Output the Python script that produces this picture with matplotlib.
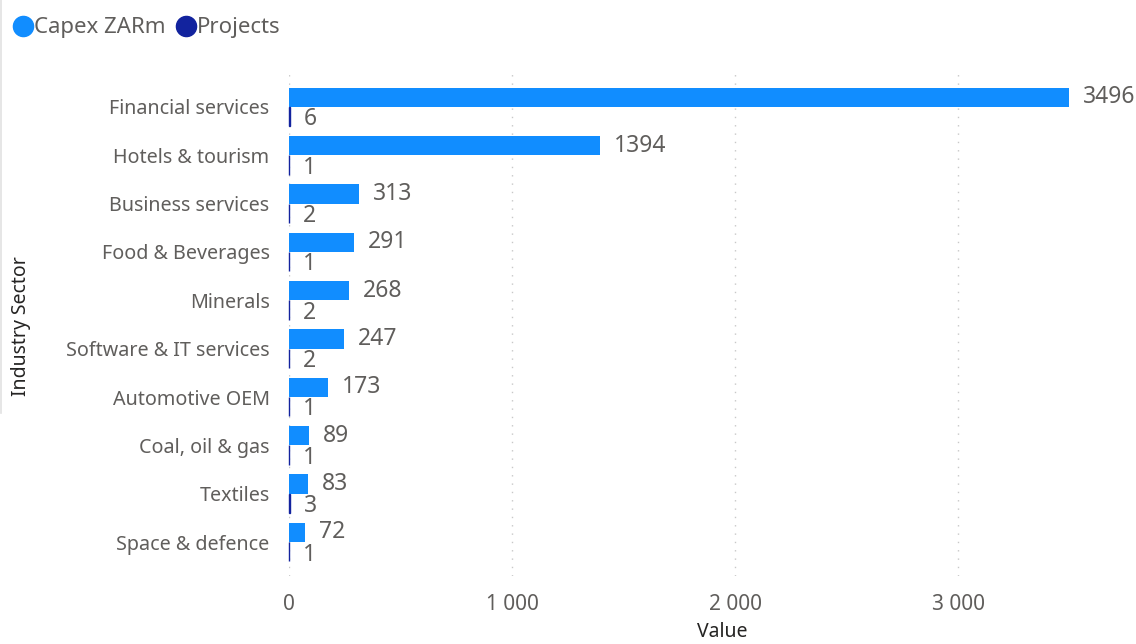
import matplotlib.pyplot as plt
import numpy as np
from matplotlib.lines import Line2D
from matplotlib.ticker import FuncFormatter

sectors = ['Financial services', 'Hotels & tourism', 'Business services',
           'Food & Beverages', 'Minerals', 'Software & IT services',
           'Automotive OEM', 'Coal, oil & gas', 'Textiles', 'Space & defence']
capex = [3496, 1394, 313, 291, 268, 247, 173, 89, 83, 72]
projects = [6, 1, 2, 1, 2, 2, 1, 1, 3, 1]

CAPEX_C = '#118DFF'
PROJ_C = '#12239E'
TXT = '#605E5C'

plt.rcParams['font.family'] = ['Noto Sans', 'DejaVu Sans']


def main():
    fig = plt.figure(figsize=(11.36, 6.44), dpi=100)
    ax = fig.add_axes([289 / 1136, 1 - 576 / 644, (1130 - 289) / 1136, (576 - 73) / 644])

    y = np.arange(len(sectors))
    h = 0.4
    ax.barh(y - h / 2, capex, height=h, color=CAPEX_C)
    # Power BI draws tiny bars with a minimum width, so give them an edge
    pb = ax.barh(y + h / 2, projects, height=h, color=PROJ_C, edgecolor=PROJ_C, linewidth=1.0)
    for r in pb:
        r.set_clip_on(False)

    for i in range(len(sectors)):
        ax.annotate(str(capex[i]), (capex[i], y[i] - h / 2), xytext=(10, 0),
                    textcoords='offset points', va='center', ha='left',
                    fontsize=16.5, color=TXT)
        ax.annotate(str(projects[i]), (projects[i], y[i] + h / 2), xytext=(10, -2),
                    textcoords='offset points', va='center', ha='left',
                    fontsize=16.5, color=TXT)

    ax.set_ylim(9.5 + 0.2, -0.5 - 0.2)
    ax.set_xlim(0, 3771)
    ax.set_yticks(y)
    ax.set_yticklabels(sectors, fontsize=14.2, color=TXT)
    ax.set_xticks([0, 1000, 2000, 3000])
    ax.xaxis.set_major_formatter(FuncFormatter(lambda v, p: f'{int(v):,}'.replace(',', ' ')))
    ax.tick_params(axis='x', labelsize=15, labelcolor=TXT, length=0, pad=13)
    ax.tick_params(axis='y', length=0, pad=14)
    ax.grid(axis='x', color='#C8C8C8', linestyle=(0, (1, 5)), linewidth=1)
    ax.set_axisbelow(True)
    for s in ax.spines.values():
        s.set_visible(False)

    fig.text(722 / 1136, 1 - 632 / 644, 'Value', ha='center', va='center',
             fontsize=14, color='#252423', fontweight='semibold')
    fig.text(21 / 1136, 1 - 326 / 644, 'Industry Sector', rotation=90, ha='center', va='center',
             fontsize=14, color='#252423', fontweight='semibold')

    # faint frame line on the left edge
    fig.add_artist(Line2D([0.5 / 1136, 0.5 / 1136], [1, 1 - 413 / 644],
                          transform=fig.transFigure, color='#E1E1E1', linewidth=1.2))

    handles = [Line2D([], [], marker='o', linestyle='', markersize=14.5, color=CAPEX_C),
               Line2D([], [], marker='o', linestyle='', markersize=14.5, color=PROJ_C)]
    fig.legend(handles, ['Capex ZARm', 'Projects'], loc='center left',
               bbox_to_anchor=(-8 / 1136, 1 - 28 / 644), ncol=2, frameon=False,
               fontsize=16, handletextpad=0.0, columnspacing=0.4, handlelength=1.0,
               labelcolor=TXT)

    fig.savefig('out.png', dpi=100)


if __name__ == '__main__':
    main()
